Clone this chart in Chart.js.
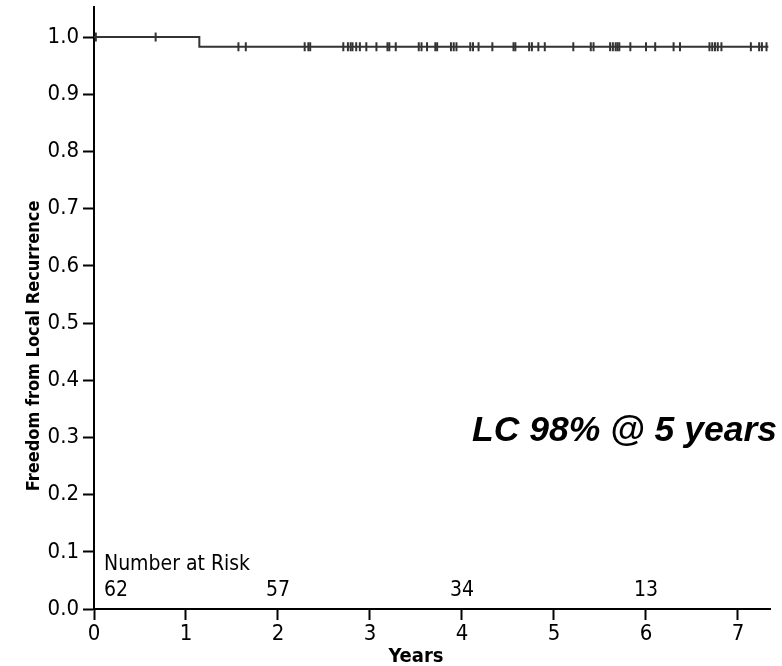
<!DOCTYPE html>
<html>
<head>
<meta charset="utf-8">
<script src="https://cdn.jsdelivr.net/npm/chart.js@4"></script>
<style>
  html, body { margin: 0; padding: 0; background: #fff; }
  #wrap { width: 782px; height: 666px; position: relative; }
</style>
</head>
<body>
<div id="wrap"><canvas id="kmChart"></canvas></div>
<script>
// Kaplan-Meier step: times where the curve changes and the survival after each
const kmTimes = [0, 1.145, 7.33];
const kmSurv = [1.0, 0.983, 0.983];

// censored patients (years)
const censorTimes = [
  0.02, 0.67, 1.57, 1.65, 2.29, 2.33, 2.35, 2.71, 2.76, 2.79, 2.81, 2.85, 2.89,
  2.96, 3.07, 3.19, 3.21, 3.28, 3.53, 3.56, 3.62, 3.71, 3.73, 3.88, 3.91, 3.94,
  4.09, 4.12, 4.18, 4.33, 4.56, 4.58, 4.73, 4.76, 4.83, 4.90, 5.21, 5.40, 5.43,
  5.61, 5.64, 5.67, 5.69, 5.71, 5.83, 6.00, 6.10, 6.30, 6.37, 6.69, 6.72, 6.75,
  6.78, 6.82, 7.14, 7.23, 7.26, 7.31
];

const riskTimes = [0, 2, 4, 6];
const riskCounts = [62, 57, 34, 13];

const xTicks = [0, 1, 2, 3, 4, 5, 6, 7];
const yTicks = [0, 0.1, 0.2, 0.3, 0.4, 0.5, 0.6, 0.7, 0.8, 0.9, 1.0];

const annotationText = "LC 98% @ 5 years";
const xTitle = "Years";
const yTitle = "Freedom from Local Recurrence";

const FONT = "'DejaVu Sans Condensed', 'DejaVu Sans', sans-serif";

function survAt(t) {
  let s = kmSurv[0];
  for (let i = 0; i < kmTimes.length; i++) {
    if (t >= kmTimes[i]) s = kmSurv[i];
  }
  return s;
}

const kmPoints = kmTimes.map((t, i) => ({ x: t, y: kmSurv[i] }));
const censorPoints = censorTimes.map(t => ({ x: t, y: survAt(t) }));

// extra text: axis titles, annotation and number at risk
const textPlugin = {
  id: "kmText",
  afterDraw(chart) {
    const ctx = chart.ctx;
    const xs = chart.scales.x;
    const ys = chart.scales.y;
    ctx.save();
    ctx.fillStyle = "#000";

    // x title
    ctx.font = "bold 20px " + FONT;
    ctx.textAlign = "center";
    ctx.textBaseline = "alphabetic";
    ctx.fillText(xTitle, xs.getPixelForValue(3.5), 662);

    // y title
    ctx.save();
    ctx.translate(39, ys.getPixelForValue(0.46));
    ctx.rotate(-Math.PI / 2);
    ctx.font = "bold 18px " + FONT;
    ctx.textAlign = "center";
    ctx.fillText(yTitle, 0, 0);
    ctx.restore();

    // annotation
    ctx.font = "italic bold 35.5px 'Liberation Sans', Arial, sans-serif";
    ctx.textAlign = "left";
    ctx.fillText(annotationText, 472, 441);

    // number at risk
    ctx.font = "21px " + FONT;
    const x0 = xs.getPixelForValue(riskTimes[0]) + 10;
    ctx.textAlign = "left";
    ctx.fillText("Number at Risk", x0, 570);
    riskTimes.forEach((t, i) => {
      if (i === 0) {
        ctx.textAlign = "left";
        ctx.fillText(String(riskCounts[i]), x0, 596);
      } else {
        ctx.textAlign = "center";
        ctx.fillText(String(riskCounts[i]), xs.getPixelForValue(t), 596);
      }
    });
    ctx.restore();
  }
};

new Chart(document.getElementById("kmChart").getContext("2d"), {
  type: "scatter",
  data: {
    datasets: [
      {
        label: "KM",
        data: kmPoints,
        showLine: true,
        stepped: true,
        borderColor: "#333",
        borderWidth: 2,
        pointRadius: 0,
        fill: false
      },
      {
        label: "Censored",
        data: censorPoints,
        showLine: false,
        pointStyle: "line",
        rotation: 90,
        pointRadius: 4.5,
        borderColor: "#333",
        backgroundColor: "#333",
        pointBorderWidth: 2
      }
    ]
  },
  options: {
    responsive: true,
    maintainAspectRatio: false,
    animation: false,
    layout: { padding: { left: 0, right: 12, top: 7, bottom: 0 } },
    plugins: {
      legend: { display: false },
      tooltip: { enabled: false }
    },
    scales: {
      x: {
        type: "linear",
        min: 0,
        max: 7.348,
        afterBuildTicks: s => { s.ticks = xTicks.map(v => ({ value: v })); },
        afterFit: s => { s.height = 57; s.paddingRight = 0; s.paddingLeft = 0; },
        ticks: {
          color: "#000",
          font: { family: FONT, size: 22 },
          padding: 1,
          callback: v => String(v)
        },
        grid: {
          drawOnChartArea: false,
          drawTicks: true,
          tickLength: 11,
          tickWidth: 2,
          tickColor: "#000"
        },
        border: { color: "#000", width: 2 }
      },
      y: {
        type: "linear",
        min: 0,
        max: 1.0525,
        afterBuildTicks: s => { s.ticks = yTicks.map(v => ({ value: v })); },
        afterFit: s => { s.width = 94; s.paddingTop = 0; s.paddingBottom = 0; },
        ticks: {
          color: "#000",
          font: { family: FONT, size: 22 },
          padding: 4,
          callback: v => v.toFixed(1)
        },
        grid: {
          drawOnChartArea: false,
          drawTicks: true,
          tickLength: 11,
          tickWidth: 2,
          tickColor: "#000"
        },
        border: { color: "#000", width: 2 }
      }
    }
  },
  plugins: [textPlugin]
});
</script>
</body>
</html>
